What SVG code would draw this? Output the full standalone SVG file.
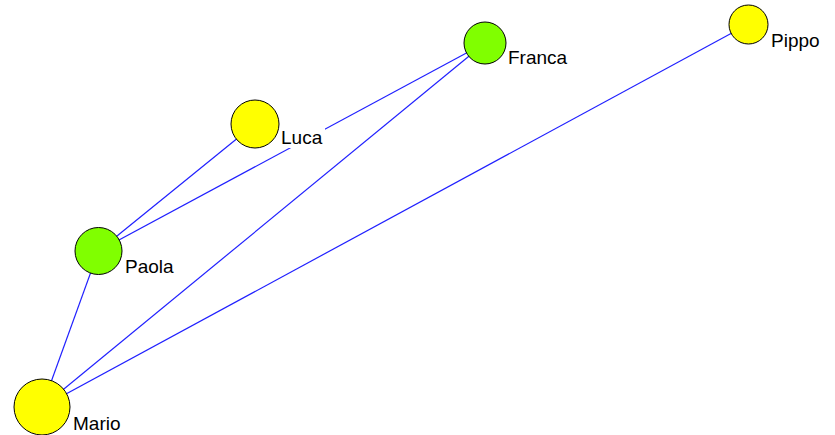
<svg xmlns="http://www.w3.org/2000/svg" width="835" height="435" viewBox="0 0 835 435">
<style>
.e{stroke:#2020ff;stroke-width:1.2;fill:none}
.n{stroke:#000;stroke-width:1}
.y{fill:#ffff00}
.g{fill:#80ff00}
.bg{fill:#fff}
.t{font-family:"Liberation Sans",Arial,sans-serif;font-size:19px;fill:#000}
</style>
<rect width="835" height="435" fill="#fff"/>
<g id="edges">
<line class="e" x1="255" y1="124" x2="98.5" y2="251"/>
<line class="e" x1="98.5" y1="251" x2="485" y2="43"/>
<line class="e" x1="485" y1="43" x2="42" y2="407"/>
<line class="e" x1="42" y1="407" x2="748.5" y2="24"/>
<line class="e" x1="98.5" y1="251" x2="42" y2="407"/>
</g>
<g id="Luca">
<circle class="n y" cx="255" cy="124" r="24"/>
<rect class="bg" x="280" y="126" width="45" height="22"/>
<text class="t" x="281" y="144">Luca</text>
</g>
<g id="Franca">
<circle class="n g" cx="485" cy="43" r="21"/>
<rect class="bg" x="507" y="46" width="64" height="22"/>
<text class="t" x="508" y="64">Franca</text>
</g>
<g id="Pippo">
<circle class="n y" cx="748.5" cy="24.5" r="19.5"/>
<rect class="bg" x="770" y="29" width="55" height="24"/>
<text class="t" x="771" y="47">Pippo</text>
</g>
<g id="Paola">
<circle class="n g" cx="98.5" cy="251" r="23.5"/>
<rect class="bg" x="124" y="255" width="56" height="22"/>
<text class="t" x="125" y="273">Paola</text>
</g>
<g id="Mario">
<circle class="n y" cx="42" cy="407" r="28"/>
<rect class="bg" x="72" y="412" width="54" height="22"/>
<text class="t" x="73" y="430">Mario</text>
</g>
</svg>
